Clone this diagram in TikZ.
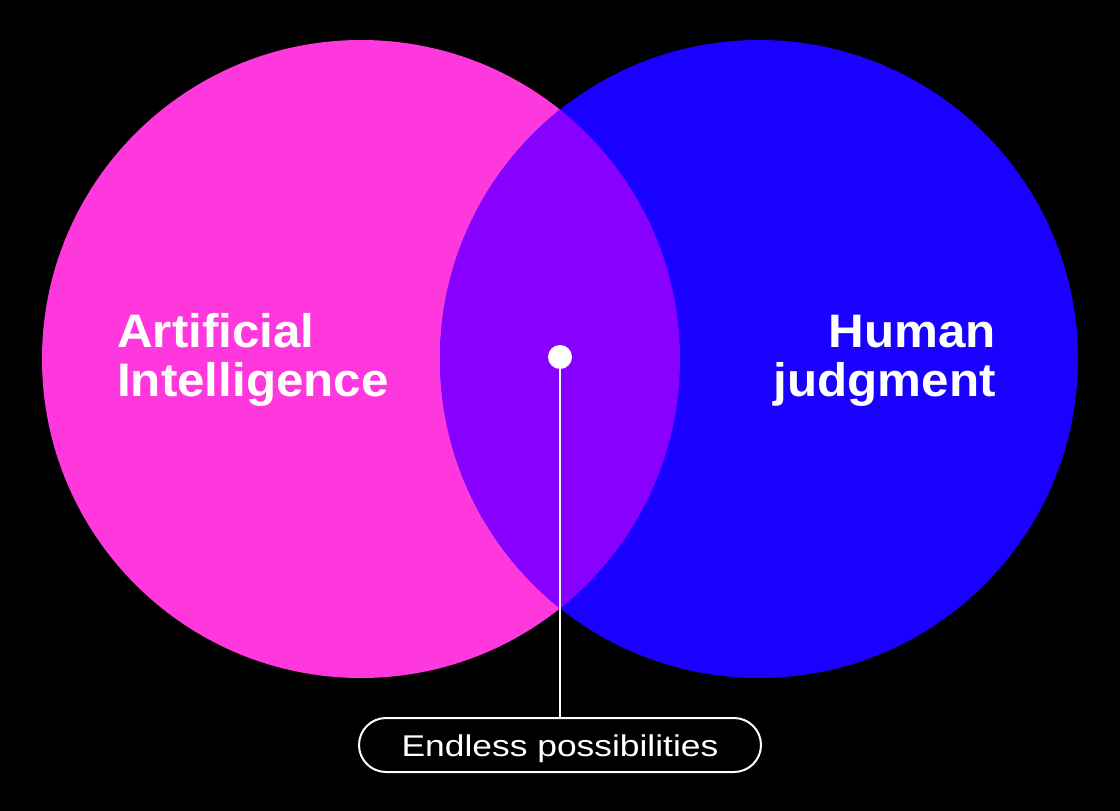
\documentclass[tikz,border=0pt]{standalone}
\usepackage{fontspec}
\setmainfont{Liberation Sans}
\newfontfamily\pillfont{Liberation Sans}[FakeStretch=1.18]
\newfontfamily\headfont{Liberation Sans}[FakeStretch=1.05]
\definecolor{aipink}{RGB}{255,56,221}
\definecolor{hjblue}{RGB}{26,0,255}
\definecolor{mixpurple}{RGB}{136,0,255}
\tikzset{
  headline/.style={text=white,font=\headfont\fontsize{47}{49}\selectfont\bfseries,inner sep=0pt},
  pill/.style={draw=white,line width=2pt,rounded corners=27pt,minimum width=402pt,minimum height=54pt,text=white,font=\pillfont\fontsize{30}{32}\selectfont,inner sep=0pt,text height=22pt,text depth=0pt},
  link/.style={draw=white,line width=2.2pt}
}
\begin{document}
\begin{tikzpicture}[x=1pt,y=-1pt]
\fill[black] (0,0) rectangle (1120,811);
\useasboundingbox (0,0) rectangle (1120,811);
\fill[aipink] (361,359) circle[radius=319];
\fill[hjblue] (759,359) circle[radius=319];
\begin{scope}
  \clip (361,359) circle[radius=319];
  \fill[mixpurple] (759,359) circle[radius=319];
\end{scope}
\node[headline,anchor=base west,align=left] (ai) at (117,396) {Artificial\\Intelligence};
\node[headline,anchor=base east,align=right] (hj) at (996,396) {Human\\judgment};
\node[pill] (ep) at (560,745) {Endless possibilities};
\node[circle,fill=white,minimum size=24pt,inner sep=0pt] (dot) at (560,357) {};
\draw[link] (dot.center) -- (ep.north);
\end{tikzpicture}
\end{document}
